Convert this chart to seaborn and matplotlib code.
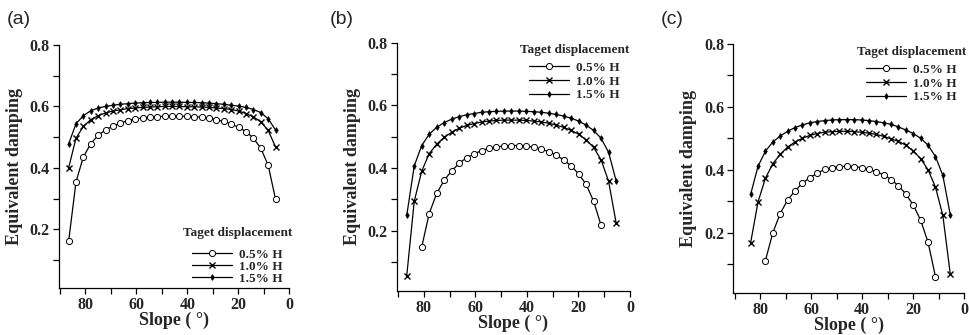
import matplotlib
matplotlib.use('Agg')
import matplotlib.pyplot as plt
import seaborn as sns
import numpy as np
import pandas as pd
from matplotlib.ticker import MultipleLocator

# ---------------- data ----------------
slope = [86.6, 83.7, 80.8, 77.9, 75.0, 72.1, 69.2, 66.3, 63.4, 60.5,
         57.6, 54.7, 51.8, 48.9, 46.0, 43.1, 40.2, 37.3, 34.4, 31.5,
         28.6, 25.7, 22.8, 19.9, 17.0, 14.1, 11.2, 8.3, 5.4]

series_labels = ['0.5% H', '1.0% H', '1.5% H']
legend_title = 'Taget displacement'
panel_tags = ['(a)', '(b)', '(c)']

N = np.nan
# panel (a)
a_05 = [0.161, 0.355, 0.436, 0.479, 0.506, 0.524, 0.536, 0.546, 0.554, 0.559,
        0.563, 0.565, 0.567, 0.568, 0.569, 0.568, 0.568, 0.567, 0.565, 0.562,
        0.557, 0.551, 0.543, 0.532, 0.518, 0.497, 0.464, 0.409, 0.298]
a_10 = [0.400, 0.497, 0.535, 0.557, 0.570, 0.579, 0.585, 0.589, 0.593, 0.595,
        0.597, 0.598, 0.599, 0.600, 0.600, 0.600, 0.599, 0.599, 0.598, 0.597,
        0.595, 0.593, 0.590, 0.585, 0.577, 0.566, 0.550, 0.522, 0.468]
a_15 = [0.478, 0.544, 0.570, 0.586, 0.595, 0.600, 0.604, 0.607, 0.609, 0.611,
        0.612, 0.613, 0.613, 0.614, 0.614, 0.614, 0.613, 0.613, 0.612, 0.611,
        0.609, 0.607, 0.604, 0.601, 0.597, 0.590, 0.580, 0.560, 0.523]
# panel (b)
b_05 = [N, N, 0.148, 0.255, 0.319, 0.361, 0.391, 0.415, 0.433, 0.445,
        0.456, 0.463, 0.467, 0.471, 0.472, 0.472, 0.470, 0.466, 0.461, 0.452,
        0.442, 0.426, 0.407, 0.381, 0.348, 0.294, 0.217, N, N]
b_10 = [0.057, 0.294, 0.390, 0.446, 0.476, 0.498, 0.514, 0.527, 0.536, 0.542,
        0.547, 0.550, 0.552, 0.553, 0.553, 0.553, 0.552, 0.550, 0.547, 0.543,
        0.537, 0.530, 0.520, 0.508, 0.490, 0.466, 0.426, 0.358, 0.226]
b_15 = [0.249, 0.407, 0.472, 0.508, 0.530, 0.545, 0.556, 0.564, 0.570, 0.574,
        0.578, 0.580, 0.581, 0.582, 0.582, 0.582, 0.581, 0.580, 0.578, 0.575,
        0.571, 0.566, 0.559, 0.550, 0.537, 0.520, 0.495, 0.450, 0.360]
# panel (c)
c_05 = [N, N, N, 0.112, 0.200, 0.261, 0.304, 0.333, 0.357, 0.375,
        0.389, 0.401, 0.407, 0.410, 0.411, 0.410, 0.407, 0.401, 0.394, 0.384,
        0.369, 0.349, 0.323, 0.288, 0.240, 0.170, 0.061, N, N]
c_10 = [N, 0.168, 0.298, 0.373, 0.419, 0.449, 0.472, 0.488, 0.500, 0.509,
        0.515, 0.519, 0.521, 0.522, 0.522, 0.521, 0.519, 0.516, 0.512, 0.506,
        0.498, 0.490, 0.478, 0.460, 0.435, 0.400, 0.345, 0.255, 0.070]
c_15 = [N, 0.322, 0.411, 0.459, 0.488, 0.507, 0.522, 0.534, 0.542, 0.549,
        0.553, 0.556, 0.558, 0.559, 0.559, 0.559, 0.558, 0.556, 0.553, 0.549,
        0.544, 0.536, 0.526, 0.515, 0.500, 0.478, 0.442, 0.382, 0.258]

panels = [(a_05, a_10, a_15), (b_05, b_10, b_15), (c_05, c_10, c_15)]

# ---------------- style ----------------
sns.set_style('ticks')
plt.rcParams['font.family'] = ['Liberation Serif', 'DejaVu Serif']
plt.rcParams['font.weight'] = 'bold'
plt.rcParams['axes.labelweight'] = 'bold'

W, H = 970, 335
fig = plt.figure(figsize=(W / 100, H / 100), dpi=100)

# axes boxes in pixels: left, right, top, bottom
boxes = [(58.7, 289.3, 45.0, 288.3),
         (396.7, 630.0, 42.7, 291.0),
         (733.3, 964.0, 43.7, 293.3)]
tag_pos = [(7, 19), (330, 19), (661, 20)]
leg_specs = [
    dict(loc='lower right', anchor=(292, 285), spacing=0.0, title_gap=7),
    dict(loc='upper right', anchor=(629, 44), spacing=0.12, title_gap=4),
    dict(loc='upper right', anchor=(966, 46), spacing=0.12, title_gap=4),
]

marker_styles = [
    dict(marker='o', markersize=4.4, markerfacecolor='white',
         markeredgecolor='black', markeredgewidth=0.7),
    dict(marker='x', markersize=4.3, markeredgecolor='black',
         markeredgewidth=1.0),
    dict(marker='d', markersize=3.0, markerfacecolor='black',
         markeredgecolor='black', markeredgewidth=0.5),
]

for k, (series, box) in enumerate(zip(panels, boxes)):
    l, r, t, b = box
    ax = fig.add_axes([l / W, 1 - b / H, (r - l) / W, (b - t) / H])
    for vals, lab, ms in zip(series, series_labels, marker_styles):
        df = pd.DataFrame({'Slope': slope, 'Damping': vals}).dropna()
        sns.lineplot(data=df, x='Slope', y='Damping', ax=ax, color='black',
                     linewidth=0.9, label=lab, errorbar=None, sort=True, **ms)
    ax.set_xlim(90.5, 0)
    ax.set_ylim(0.008, 0.8)
    ax.xaxis.set_major_locator(MultipleLocator(20))
    ax.xaxis.set_minor_locator(MultipleLocator(10))
    ax.yaxis.set_major_locator(MultipleLocator(0.2))
    ax.yaxis.set_minor_locator(MultipleLocator(0.1))
    ax.set_yticks([0.2, 0.4, 0.6, 0.8])
    ax.set_yticklabels(['0.2', '0.4', '0.6', '0.8'])
    ax.set_xticks([80, 60, 40, 20, 0])
    ax.set_xticklabels(['80', '60', '40', '20', '0'])
    ax.tick_params(axis='both', which='both', direction='out', length=4.5,
                   width=0.9, color='black', labelsize=11.5, pad=2)
    for lab in ax.get_xticklabels() + ax.get_yticklabels():
        lab.set_fontweight('bold')
    for s in ['top', 'right']:
        ax.spines[s].set_visible(False)
    for s in ['left', 'bottom']:
        ax.spines[s].set_linewidth(0.9)
        ax.spines[s].set_color('black')
    ax.set_xlabel('Slope ( °)', fontsize=13, fontweight='bold', labelpad=-1)
    ax.set_ylabel('Equivalent damping', fontsize=13, fontweight='bold',
                  labelpad=5)

    spec = leg_specs[k]
    leg = ax.legend(title=legend_title, frameon=False,
                    loc=spec['loc'],
                    bbox_to_anchor=(spec['anchor'][0] / W, 1 - spec['anchor'][1] / H),
                    bbox_transform=fig.transFigure,
                    prop={'family': 'Liberation Serif', 'weight': 'bold', 'size': 9.5},
                    title_fontproperties={'family': 'Liberation Serif', 'weight': 'bold', 'size': 9.5},
                    handlelength=3.0, handletextpad=0.5,
                    labelspacing=spec['spacing'], borderpad=0, borderaxespad=0)
    leg._legend_box.sep = spec['title_gap']

    tx, ty = tag_pos[k]
    fig.text(tx / W, 1 - ty / H, panel_tags[k], fontsize=14,
             family=['Liberation Sans', 'DejaVu Sans'], fontweight='normal',
             ha='left', va='center')

fig.savefig('out.png', dpi=100)
